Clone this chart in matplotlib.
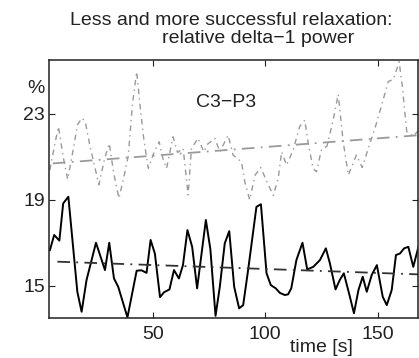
import matplotlib
matplotlib.use('Agg')
import matplotlib.pyplot as plt

plt.rcParams['font.family'] = ['Liberation Sans', 'DejaVu Sans']

# less successful relaxation (black, solid) - time [s], relative delta-1 power [%]
t_low = [4.2, 6.1, 8.4, 10.1, 12.4, 16.4, 18.3, 20.5, 24.7, 28.7, 30.6, 32.7, 34.6, 38.7,
         42.8, 44.9, 47.2, 49.0, 50.9, 53.2, 55.0, 57.4, 59.4, 61.6, 63.4, 65.4, 67.5, 69.7,
         73.6, 75.6, 77.9, 79.8, 82.0, 84.0, 86.2, 88.4, 90.2, 92.4, 96.1, 98.1, 100.6, 102.5,
         104.7, 106.5, 108.7, 110.2, 111.6, 113.9, 116.6, 118.7, 121.4, 124.4, 127.0, 128.8,
         131.3, 133.2, 135.0, 137.5, 139.5, 141.5, 143.4, 145.2, 147.4, 149.7, 152.3, 154.1,
         156.3, 158.2, 160.0, 161.8, 163.7, 165.9, 168.2]
v_low = [16.66, 17.36, 17.1, 18.83, 19.14, 14.72, 13.79, 15.27, 17.0, 15.73, 17.0, 15.34, 14.95, 13.53,
         15.7, 15.72, 15.6, 17.13, 16.5, 14.47, 14.7, 14.83, 15.73, 15.34, 15.96, 17.59, 16.81, 14.88,
         18.06, 16.7, 13.6, 14.95, 16.97, 17.54, 14.95, 13.95, 14.1, 15.73, 18.67, 18.79, 15.58, 15.03,
         14.88, 14.67, 14.57, 14.6, 14.88, 16.2, 17.0, 15.76, 15.88, 16.2, 16.74, 16.04,
         14.83, 15.27, 15.58, 14.57, 13.72, 14.8, 15.42, 14.72, 15.5, 15.96, 14.49, 14.1,
         14.8, 16.43, 16.5, 16.74, 16.81, 15.88, 16.81]

# more successful relaxation (gray, dash-dot)
t_high = [4.2, 6.0, 8.0, 10.1, 12.1, 14.5, 16.5, 18.5, 20.0, 22.0, 24.0, 26.0, 28.5, 30.6, 32.5,
          34.9, 37.0, 39.0, 41.0, 42.8, 44.5, 46.0, 48.0, 50.5, 52.8, 54.5, 56.1, 59.0, 61.0,
          63.5, 65.7, 67.2, 70.1, 72.7, 74.5, 77.6, 79.8, 83.5, 85.7, 89.4, 91.0, 93.1, 95.5,
          98.0, 100.5, 103.6, 105.8, 107.3, 109.5, 112.4, 115.3, 117.6, 119.2, 121.3, 122.8,
          125.0, 127.5, 130.1, 132.5, 134.7, 137.0, 140.6, 143.2, 146.5, 148.5, 151.0, 154.8,
          157.0, 158.0, 159.6, 161.0, 163.0, 165.9, 168.0]
v_high = [20.38, 21.4, 22.4, 21.0, 19.95, 21.3, 22.5, 22.8, 22.6, 21.5, 20.6, 19.7, 20.9, 21.62, 20.3,
          19.07, 20.0, 21.0, 23.5, 24.95, 23.2, 21.8, 20.46, 21.2, 21.7, 20.9, 20.46, 21.93, 21.2,
          21.39, 19.22, 21.39, 21.86, 21.23, 21.6, 21.86, 21.23, 22.0, 21.08, 20.77, 19.8, 19.0, 20.15,
          20.5, 19.9, 19.2, 20.0, 21.23, 20.61, 21.3, 22.4, 22.7, 21.6, 20.46, 20.3,
          21.31, 21.5, 22.63, 23.9, 21.7, 20.15, 21.08, 20.5, 21.6, 22.2, 23.1, 24.5,
          24.6, 24.9, 25.42, 24.3, 22.16, 21.95, 22.2]

# linear trends (start / end)
trend_t_low = [7.5, 168]
trend_v_low = [16.12, 15.53]
trend_t_high = [5.5, 168]
trend_v_high = [20.69, 22.0]

fig = plt.figure(figsize=(4.19, 3.58), dpi=100)
ax = fig.add_axes([0.117, 0.1117, 0.8806, 0.7207])

gray = '#9a9a9a'
ax.plot(t_high, v_high, color=gray, lw=1.0, dashes=(4, 3, 1, 3))
ax.plot(trend_t_high, trend_v_high, color=gray, lw=1.3, dashes=(7, 3.5, 1, 3.5))
ax.plot(t_low, v_low, color='black', lw=1.4)
ax.plot(trend_t_low, trend_v_low, color='#333333', lw=1.3, dashes=(7, 3.5, 1, 3.5))

ax.set_xlim(3.8, 168)
ax.set_ylim(13.5, 25.5)
ax.set_xticks([50, 100, 150])
ax.set_yticks([15, 19, 23])
ax.tick_params(direction='in', length=4, width=0.8, top=True, right=True,
               labelsize=14, colors='#222222', pad=6)
ax.tick_params(axis='y', pad=3)
for s in ax.spines.values():
    s.set_linewidth(1.1)
    s.set_color('#222222')

ax.text(-0.012, 0.89, '%', transform=ax.transAxes, ha='right', va='center',
        fontsize=14, color='#222222')
ax.text(0.48, 0.835, 'C3\u2212P3', transform=ax.transAxes, ha='center', va='center',
        fontsize=14, color='#222222')

fig.text(70 / 419, 1 - 25 / 358, 'Less and more successful relaxation:', ha='left',
         va='baseline', fontsize=14, color='#222222')
fig.text(162 / 419, 1 - 43 / 358, 'relative delta\u22121 power', ha='left',
         va='baseline', fontsize=14, color='#222222')
fig.text(321 / 419, 1 - 347 / 358, 'time [s]', ha='center', va='center',
         fontsize=14, color='#222222')

fig.savefig('out.png', dpi=100)
